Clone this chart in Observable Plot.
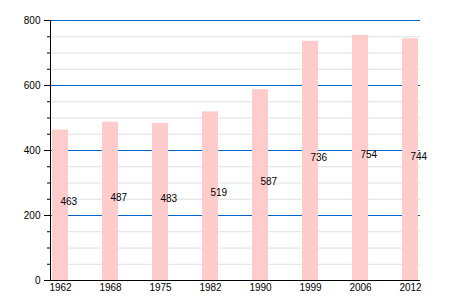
<!DOCTYPE html>
<html>
<head>
<meta charset="utf-8">
<script src="https://cdn.jsdelivr.net/npm/d3@7"></script>
<script src="https://cdn.jsdelivr.net/npm/@observablehq/plot@0.6"></script>
<style>
  html, body { margin: 0; padding: 0; background: #fff; }
</style>
</head>
<body>
<div id="chart"></div>
<script>
const years = ["1962", "1968", "1975", "1982", "1990", "1999", "2006", "2012"];
const population = [463, 487, 483, 519, 587, 736, 754, 744];
const majorTicks = [0, 200, 400, 600, 800];
const minorTicks = [50, 100, 150, 250, 300, 350, 450, 500, 550, 650, 700, 750];
const gridMajor = [200, 400, 600, 800];

const data = years.map((y, i) => ({year: y, value: population[i]}));

const chart = Plot.plot({
  width: 450,
  height: 300,
  marginLeft: 50,
  marginRight: 30,
  marginTop: 20,
  marginBottom: 20,
  style: {fontFamily: "'Liberation Sans', Arial, sans-serif", fontSize: "10px", color: "#000", background: "#fff", overflow: "visible"},
  x: {domain: years, paddingInner: 0.684, paddingOuter: 0, align: 0.5, axis: null, label: null},
  y: {domain: [0, 800], axis: null, label: null},
  marks: [
    Plot.ruleY(minorTicks, {stroke: "#e0e0e0", strokeWidth: 1}),
    Plot.ruleY(gridMajor, {stroke: "#0066cc", strokeWidth: 1}),
    Plot.barY(data, {x: "year", y: "value", fill: "#ffcccc"}),
    Plot.text(data, {x: "year", y: d => d.value / 2, text: d => String(d.value), textAnchor: "start", lineAnchor: "bottom", fill: "#000", fontSize: 10}),
    Plot.axisY({ticks: majorTicks, tickSize: 6, tickPadding: 4, tickFormat: d => String(d), stroke: "#000", fill: "#000", strokeOpacity: 1, label: null}),
    Plot.axisY({ticks: minorTicks, tickSize: 3, tickFormat: () => "", stroke: "#000", strokeOpacity: 1, label: null}),
    Plot.axisX({tickSize: 0, tickPadding: 3, fill: "#000", label: null}),
    Plot.frame({anchor: "left", stroke: "#000", strokeOpacity: 1}),
    Plot.ruleY([0], {stroke: "#000", strokeWidth: 1})
  ]
});
document.getElementById("chart").appendChild(chart);
</script>
</body>
</html>
